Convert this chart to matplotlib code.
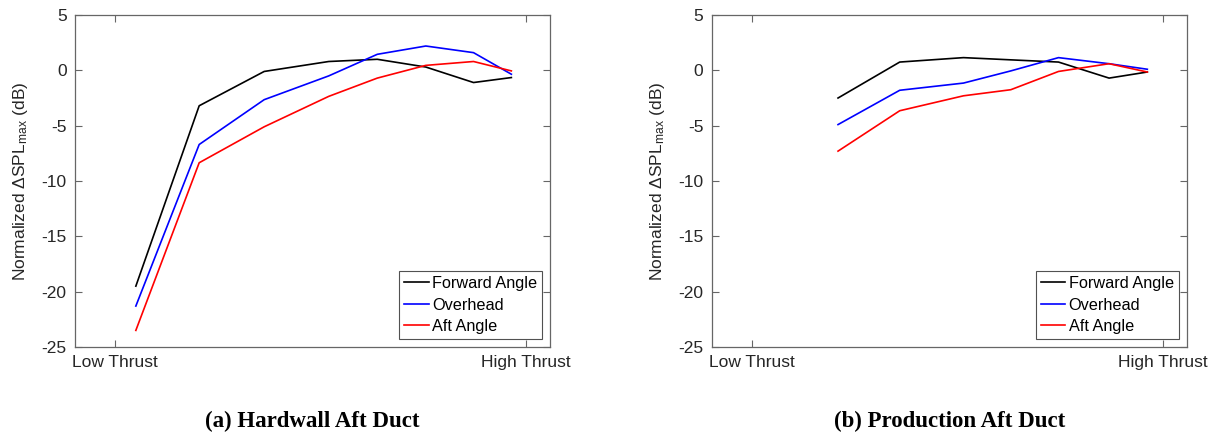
import matplotlib
matplotlib.use("Agg")
import matplotlib.pyplot as plt

plt.rcParams['font.family'] = ['Liberation Sans', 'DejaVu Sans']
plt.rcParams['mathtext.fontset'] = 'custom'
plt.rcParams['mathtext.rm'] = 'Liberation Sans'
plt.rcParams['mathtext.it'] = 'Liberation Sans'
plt.rcParams['mathtext.default'] = 'regular'
plt.rcParams['axes.unicode_minus'] = False

# thrust setting, normalized: 0 = low thrust, 1 = high thrust
hw_x = [0.051, 0.205, 0.363, 0.520, 0.638, 0.756, 0.872, 0.964]
hw_forward = [-19.5, -3.2, -0.1, 0.8, 1.0, 0.3, -1.1, -0.65]
hw_overhead = [-21.3, -6.7, -2.65, -0.5, 1.45, 2.2, 1.6, -0.35]
hw_aft = [-23.5, -8.35, -5.1, -2.35, -0.7, 0.45, 0.8, -0.05]

prod_x = [0.210, 0.360, 0.515, 0.630, 0.746, 0.869, 0.962]
prod_forward = [-2.5, 0.75, 1.15, 0.95, 0.75, -0.7, -0.15]
prod_overhead = [-4.9, -1.8, -1.15, -0.05, 1.15, 0.6, 0.1]
prod_aft = [-7.3, -3.65, -2.3, -1.75, -0.1, 0.6, -0.15]

x_ticks = [0, 1]
x_labels = ['Low Thrust', 'High Thrust']
y_ticks = [-25, -20, -15, -10, -5, 0, 5]
series_names = ['Forward Angle', 'Overhead', 'Aft Angle']
COLORS = ['black', 'blue', 'red']
captions = ['(a) Hardwall Aft Duct', '(b) Production Aft Duct']

AX_COLOR = '#262626'


def plot_panel(ax, x, ys, caption):
    for y, name, c in zip(ys, series_names, COLORS):
        ax.plot(x, y, color=c, lw=1.2, label=name)
    ax.set_xlim(-0.097, 1.058)
    ax.set_ylim(-25, 5)
    ax.set_xticks(x_ticks)
    ax.set_xticklabels(x_labels)
    ax.set_yticks(y_ticks)
    ax.tick_params(direction='in', top=True, right=True, labelsize=12.5,
                   colors='#666666', labelcolor=AX_COLOR, length=5, width=0.8, pad=6)
    for s in ax.spines.values():
        s.set_color('#666666')
        s.set_linewidth(0.9)
    ax.set_ylabel(r'Normalized $\Delta$SPL$_{max}$ (dB)', fontsize=12.5,
                  color=AX_COLOR, labelpad=8)
    leg = ax.legend(loc='lower right', fontsize=11.7, frameon=True, fancybox=False,
                    edgecolor=AX_COLOR, handlelength=1.5, handletextpad=0.2,
                    labelspacing=0.4, borderpad=0.3, borderaxespad=0.5)
    leg.get_frame().set_linewidth(0.8)
    for t in leg.get_texts():
        t.set_color('black')
    ax.text(0.5, -0.225, caption, transform=ax.transAxes, ha='center', va='center',
            fontsize=16.5, fontweight='bold', family='Liberation Serif')


fig = plt.figure(figsize=(12.15, 4.33), dpi=100)
ax1 = fig.add_axes([0.0617, 0.1986, 0.391, 0.7667])
ax2 = fig.add_axes([0.5858, 0.1986, 0.391, 0.7667])

plot_panel(ax1, hw_x, [hw_forward, hw_overhead, hw_aft], captions[0])
plot_panel(ax2, prod_x, [prod_forward, prod_overhead, prod_aft], captions[1])

fig.savefig('out.png', dpi=100)
